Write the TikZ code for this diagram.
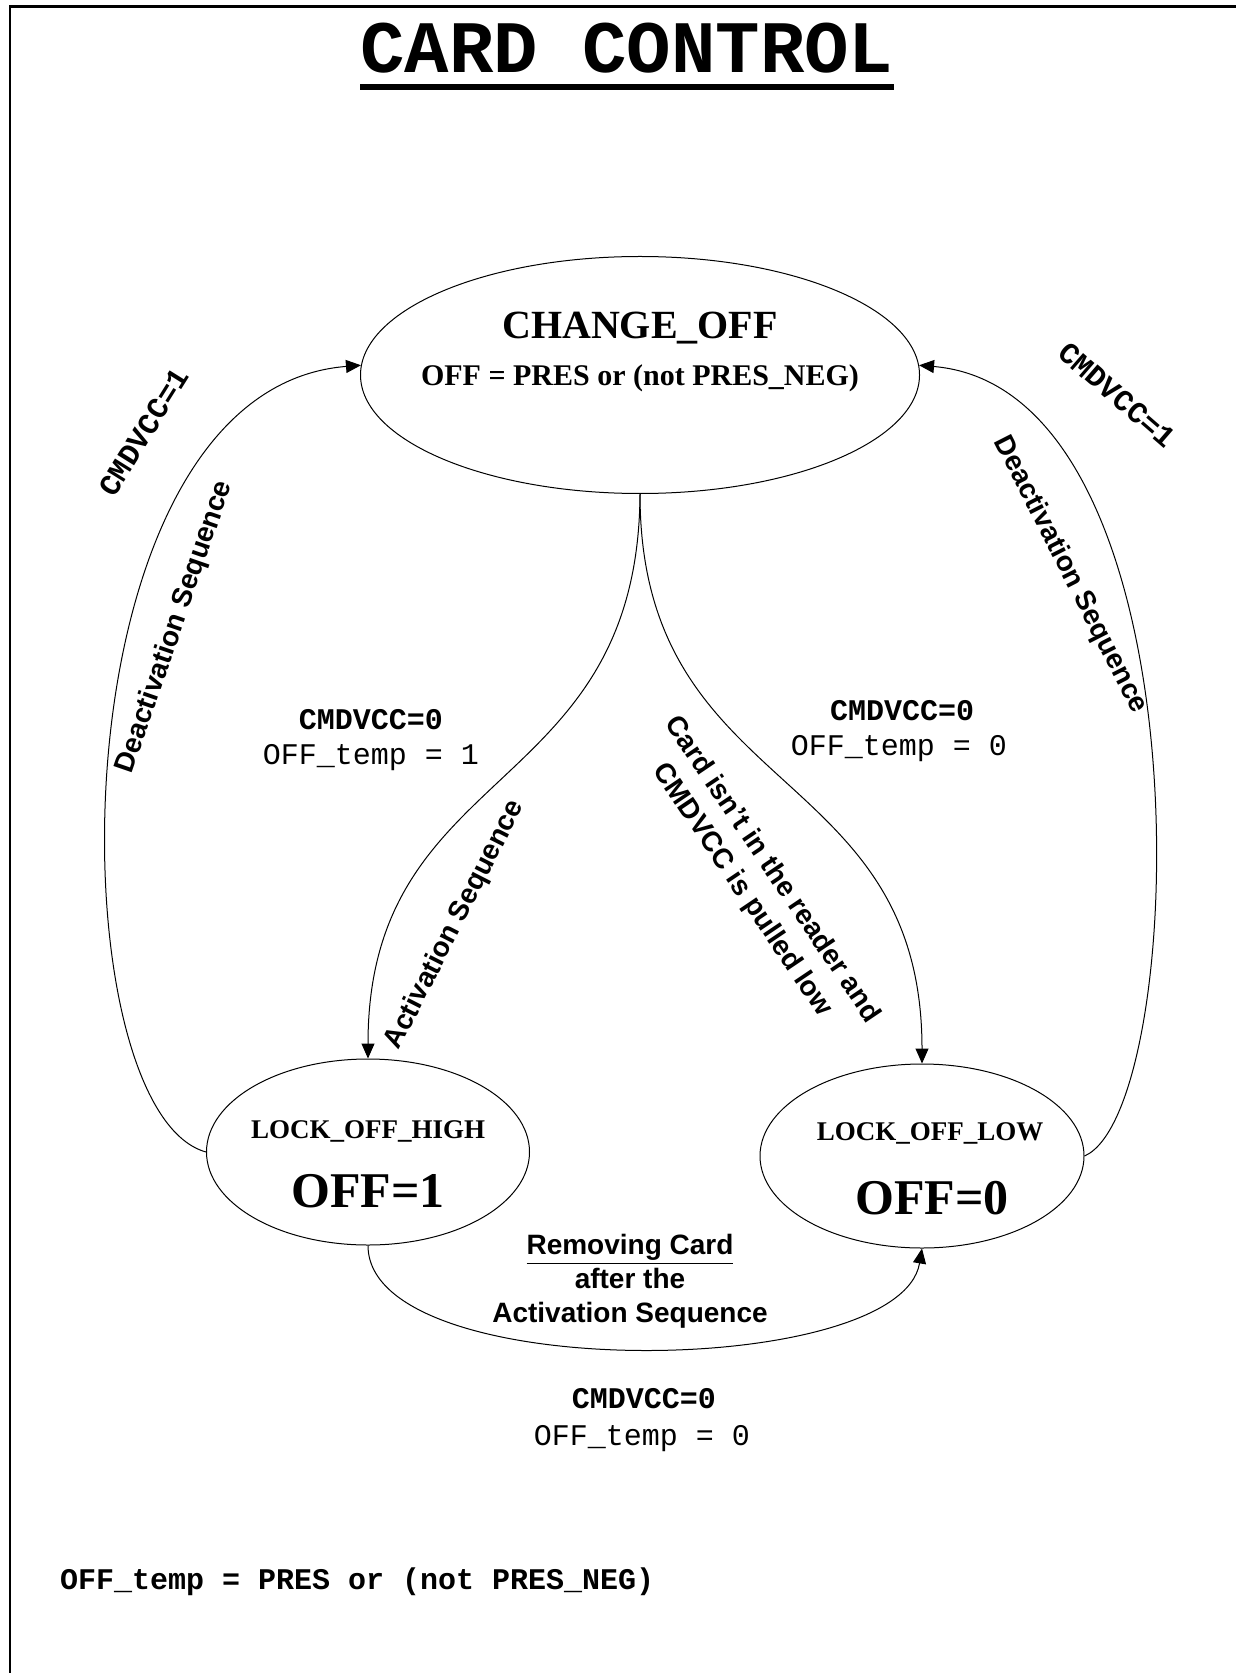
\documentclass[tikz,border=0pt]{standalone}
\usepackage{fontspec}
\setmainfont{Liberation Serif}
\newfontfamily\arialfont{Liberation Sans}
\newfontfamily\courierfont{Liberation Mono}
\usetikzlibrary{shapes.geometric,arrows.meta}

\def\cardfont#1{\fontsize{#1}{#1}\selectfont\bfseries}

\tikzset{
    state/.style={draw, ellipse, line width=.5pt, inner sep=0pt},
    trans/.style={line width=.5pt, -{Triangle[length=7.5pt,width=6.5pt]}},
    cond/.style={font=\courierfont\bfseries\fontsize{15}{15}\selectfont},
    assign/.style={font=\courierfont\fontsize{15}{15}\selectfont},
    seq/.style={font=\arialfont\bfseries\fontsize{14}{17}\selectfont, align=center}
}

\begin{document}
\begin{tikzpicture}[x=.5pt, y=-.5pt]
        \useasboundingbox (0,0) rectangle (1236,1673);
        \draw[line width=1.5pt] (9,7) -- (1236,7);
        \draw[line width=1pt] (9.5,7) -- (9.5,1673);
        \node[font=\courierfont\cardfont{37}, inner sep=0pt, anchor=base] (title) at (627,73) {CARD CONTROL};
        \draw[line width=3pt] ([yshift=-7pt]title.base west) -- ([yshift=-7pt]title.base east);

        \node[state, minimum width=279.5pt, minimum height=118.5pt] (change) at (640,375) {};
        \node[state, minimum width=161.5pt, minimum height=93pt] (lockhigh) at (368,1152) {};
        \node[state, minimum width=162pt, minimum height=92pt] (locklow) at (922,1156) {};
        \node[font=\cardfont{20}] (changename) at (640,328) {CHANGE\_OFF};
        \node[font=\cardfont{15}] (changeeq) at (640,378) {OFF = PRES or (not PRES\_NEG)};
        \node[font=\cardfont{13.5}] (highname) at (368,1131) {LOCK\_OFF\_HIGH};
        \node[font=\cardfont{25}] (higheq) at (368,1191) {OFF=1};
        \node[font=\cardfont{13.5}] (lowname) at (930,1133) {LOCK\_OFF\_LOW};
        \node[font=\cardfont{25}] (loweq) at (932,1198) {OFF=0};

        \draw[trans] (lockhigh.west) .. controls (55,1110) and (50,390) .. (change.178);
        \draw[trans] (locklow.east) .. controls (1190,1110) and (1210,390) .. (change.2);
        \draw[trans] (change.south) .. controls (638,800) and (368,760) .. (lockhigh.north);
        \draw[trans] (change.south) .. controls (640,800) and (922,760) .. (locklow.north);
        \draw[trans] (lockhigh.south) .. controls (368,1385) and (900,1380) .. (locklow.south);

        \node[cond] (leftcmd) at (371,720) {CMDVCC=0};
        \node[assign] (lefttemp) at (371,758) {OFF\_temp = 1};
        \node[cond] (rightcmd) at (902,711) {CMDVCC=0};
        \node[assign] (righttemp) at (899,749) {OFF\_temp = 0};
        \node[cond] (bottomcmd) at (644,1399) {CMDVCC=0};
        \node[assign] (bottomtemp) at (642,1439) {OFF\_temp = 0};
        \node[cond, anchor=west] (offtemp) at (53,1582) {OFF\_temp = PRES or (not PRES\_NEG)};

        \node[cond, rotate=58] (leftback) at (144,432) {CMDVCC=1};
        \node[seq, rotate=71] (leftdeact) at (175,627) {Deactivation Sequence};
        \node[cond, rotate=-41] (rightback) at (1117,395) {CMDVCC=1};
        \node[seq, rotate=-63] (rightdeact) at (1070,575) {Deactivation Sequence};
        \node[seq, rotate=63] (act) at (455,925) {Activation Sequence};
        \node[seq, rotate=-56, font=\arialfont\bfseries\fontsize{14}{18}\selectfont] (nocard) at (757,880) {Card isn’t in the reader and\\CMDVCC is pulled low};
        \node[seq] (removing) at (630,1281) {\underline{Removing Card}\\after the\\Activation Sequence};
    \end{tikzpicture}
\end{document}
